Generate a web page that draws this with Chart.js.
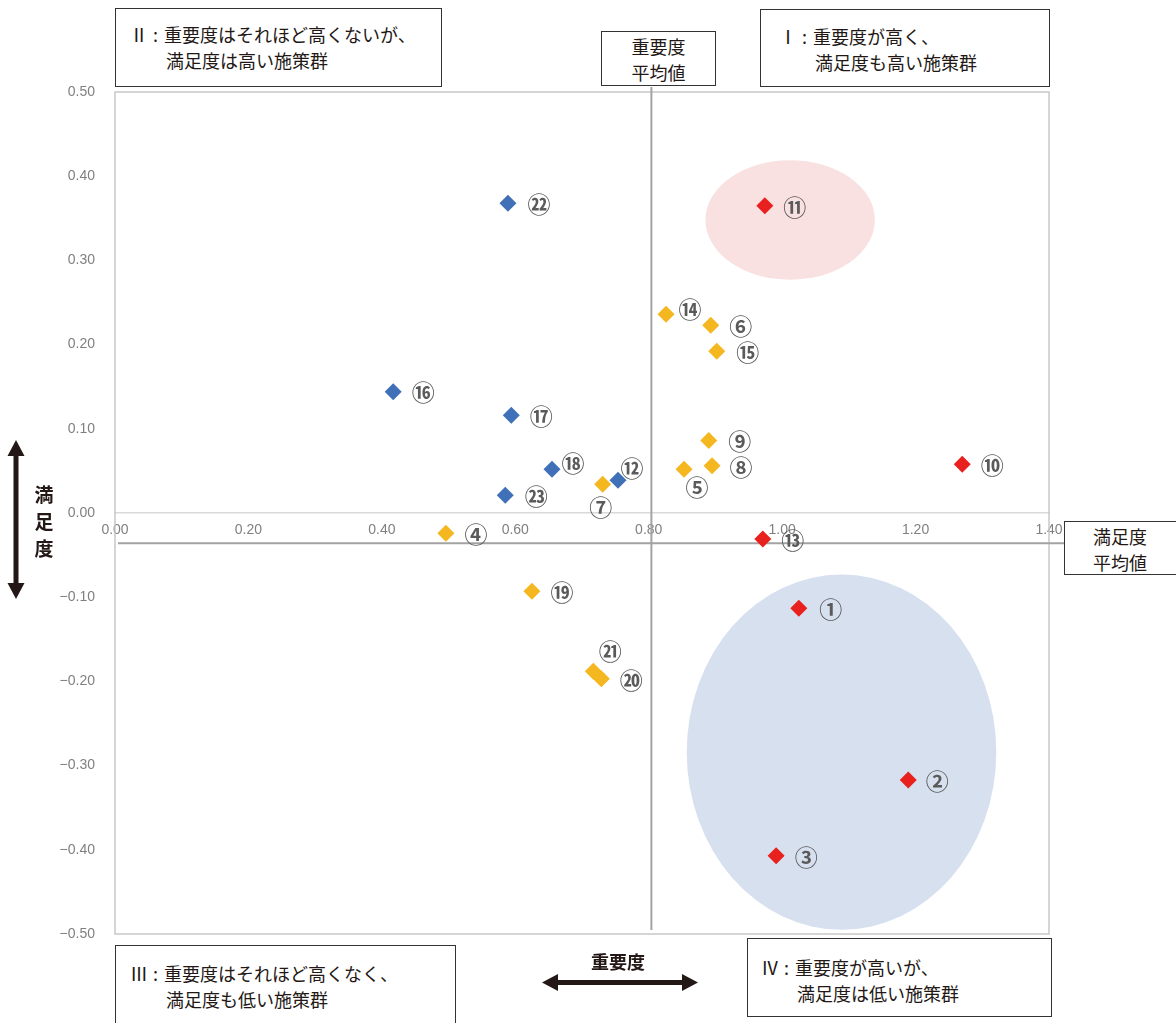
<!DOCTYPE html>
<html lang="ja">
<head>
<meta charset="utf-8">
<title>重要度・満足度 散布図</title>
<script src="https://cdn.jsdelivr.net/npm/chart.js@4/dist/chart.umd.min.js"></script>
<style>
  body { margin: 0; background: #fff; font-family: "Noto Sans CJK JP", sans-serif; }
  #wrap { position: relative; width: 1176px; height: 1023px; overflow: hidden; }
  #wrap canvas { position: absolute; left: 0; top: 0; }
  .box { position: absolute; box-sizing: border-box; border: 1.5px solid #333; background: #fff;
         color: #231815; font-size: 18px; line-height: 26px; white-space: nowrap; }
  .box .l2 { padding-left: 36px; }
  .box .c { margin: 0 6px 0 5px; }
  .mean { text-align: center; line-height: 26px; }
  .axisname { position: absolute; font-weight: bold; font-size: 18px; color: #231815; }
</style>
</head>
<body>
<div id="wrap">
  <canvas id="chart" width="1176" height="1023"></canvas>

  <div class="box" style="left:115px; top:8px; width:327px; height:79px; padding:12px 0 0 14px;">
    <div>Ⅱ<span class="c">:</span>重要度はそれほど高くないが、</div><div class="l2">満足度は高い施策群</div>
  </div>
  <div class="box mean" style="left:601px; top:31px; width:115px; height:55px; padding-top:1px;">
    <div>重要度</div><div>平均値</div>
  </div>
  <div class="box" style="left:760px; top:9px; width:290px; height:78px; padding:13px 0 0 18px;">
    <div>Ⅰ<span class="c">:</span>重要度が高く、</div><div class="l2">満足度も高い施策群</div>
  </div>
  <div class="box mean" style="left:1064px; top:521px; width:130px; height:54px; padding-top:1px; padding-right:18px;">
    <div>満足度</div><div>平均値</div>
  </div>
  <div class="box" style="left:115px; top:945px; width:341px; height:90px; padding:14px 0 0 14px;">
    <div>Ⅲ<span class="c">:</span>重要度はそれほど高くなく、</div><div class="l2">満足度も低い施策群</div>
  </div>
  <div class="box" style="left:747px; top:938px; width:305px; height:79px; padding:15px 0 0 13px;">
    <div>Ⅳ<span class="c">:</span>重要度が高いが、</div><div class="l2">満足度は低い施策群</div>
  </div>

  <div class="axisname" style="left:591px; top:948px;">重要度</div>
  <div class="axisname" style="left:32px; top:480px; width:24px; font-size:19px; line-height:27px; text-align:center;">満<br>足<br>度</div>
</div>

<script>
// 施策番号
const policyNo = ['①','②','③','④','⑤','⑥','⑦','⑧','⑨','⑩','⑪','⑫',
                  '⑬','⑭','⑮','⑯','⑰','⑱','⑲','⑳','㉑','㉒','㉓'];

// 重要度 (x)
const importance = [1.025, 1.189, 0.991, 0.496, 0.853, 0.893, 0.731, 0.895, 0.890, 1.270, 0.974, 0.754,
                    0.971, 0.826, 0.902, 0.417, 0.594, 0.655, 0.625, 0.729, 0.717, 0.589, 0.585];

// 満足度 (y)
const satisfaction = [-0.113, -0.317, -0.407, -0.024, 0.052, 0.223, 0.034, 0.056, 0.086, 0.058, 0.365, 0.039,
                      -0.031, 0.236, 0.192, 0.144, 0.116, 0.052, -0.093, -0.197, -0.188, 0.368, 0.021];

// color group of each policy
const group = ['red','red','red','orange','orange','orange','orange','orange','orange','red','red','blue',
               'red','orange','orange','blue','blue','blue','orange','orange','orange','blue','blue'];

// averages (reference lines)
const avgImportance = 0.804;
const avgSatisfaction = -0.036;

// highlighted areas: [centerX, centerY, radiusX, radiusY] in data units
const pinkArea = [1.012, 0.348, 0.127, 0.071];
const blueArea = [1.089, -0.284, 0.232, 0.211];

// axis ticks
const xTicks = [0, 0.2, 0.4, 0.6, 0.8, 1.0, 1.2, 1.4];
const yTicks = [0.5, 0.4, 0.3, 0.2, 0.1, 0, -0.1, -0.2, -0.3, -0.4, -0.5];

// label offsets from the diamond, in px
const labelShift = [[32,0],[29,0],[30,1],[30,0],[13,17],[30,0],[-2,22],[29,0],[31,0],[30,0],[30,1],[14,-13],
                    [30,0],[24,-6],[31,0],[30,0],[30,0],[21,-7],[30,0],[30,0],[17,-21],[31,0],[31,0]];

const colors = { red: '#e8201e', orange: '#f5b71f', blue: '#4070b8' };

function makeSet(name) {
    const pts = [];
    importance.forEach((v, i) => {
        if (group[i] === name) pts.push({ x: v, y: satisfaction[i] });
    });
    return {
        label: name,
        data: pts,
        backgroundColor: colors[name],
        borderColor: colors[name],
        borderWidth: 0,
        pointStyle: 'rectRot',
        pointRadius: 8.5,
        pointHoverRadius: 8.5
    };
}

const decor = {
    id: 'decor',
    beforeDatasetsDraw(chart) {
        const { ctx, chartArea: a, scales: { x, y } } = chart;
        ctx.save();
        // shaded ellipses
        [[pinkArea, '#f9e1e1'], [blueArea, '#d7e0ef']].forEach(([e, c]) => {
            const cx = x.getPixelForValue(e[0]), cy = y.getPixelForValue(e[1]);
            const rx = x.getPixelForValue(e[0] + e[2]) - cx;
            const ry = cy - y.getPixelForValue(e[1] + e[3]);
            ctx.beginPath();
            ctx.ellipse(cx, cy, rx, ry, 0, 0, Math.PI * 2);
            ctx.fillStyle = c;
            ctx.fill();
        });
        // plot frame
        ctx.strokeStyle = '#c8c8c8';
        ctx.lineWidth = 1.5;
        ctx.strokeRect(a.left, a.top, a.right - a.left, a.bottom - a.top);
        // average lines
        ctx.strokeStyle = '#a3a3a3';
        ctx.lineWidth = 2;
        const mx = x.getPixelForValue(avgImportance);
        const my = y.getPixelForValue(avgSatisfaction);
        ctx.beginPath();
        ctx.moveTo(mx, a.top - 5);
        ctx.lineTo(mx, a.bottom - 4);
        ctx.moveTo(a.left + 3, my);
        ctx.lineTo(1064, my);
        ctx.stroke();
        ctx.restore();
    },
    afterDatasetsDraw(chart) {
        const { ctx, scales: { x, y } } = chart;
        ctx.save();
        ctx.font = 'bold 23px "Noto Sans CJK JP"';
        ctx.fillStyle = '#5a5a5a';
        ctx.textAlign = 'center';
        ctx.textBaseline = 'middle';
        importance.forEach((v, i) => {
            const [dx, dy] = labelShift[i];
            ctx.fillText(policyNo[i], x.getPixelForValue(v) + dx, y.getPixelForValue(satisfaction[i]) + dy + 1);
        });
        ctx.restore();
    },
    afterDraw(chart) {
        const ctx = chart.ctx;
        ctx.save();
        ctx.fillStyle = '#231815';
        // horizontal double arrow (重要度)
        ctx.fillRect(556, 980, 128, 5);
        ctx.beginPath();
        ctx.moveTo(542, 982.5); ctx.lineTo(558, 974); ctx.lineTo(558, 991); ctx.closePath();
        ctx.moveTo(698, 982.5); ctx.lineTo(682, 974); ctx.lineTo(682, 991); ctx.closePath();
        ctx.fill();
        // vertical double arrow (満足度)
        ctx.fillRect(13.5, 454, 5, 132);
        ctx.beginPath();
        ctx.moveTo(16, 440); ctx.lineTo(7.5, 456); ctx.lineTo(24.5, 456); ctx.closePath();
        ctx.moveTo(16, 599); ctx.lineTo(7.5, 583); ctx.lineTo(24.5, 583); ctx.closePath();
        ctx.fill();
        ctx.restore();
    }
};

const tickFont = { family: '"Liberation Sans", Arial, sans-serif', size: 14 };

new Chart(document.getElementById('chart'), {
    type: 'scatter',
    data: { datasets: ['red', 'orange', 'blue'].map(makeSet) },
    options: {
        responsive: false,
        animation: false,
        layout: { padding: { left: 0, right: 127, top: 92, bottom: 89 } },
        plugins: { legend: { display: false }, tooltip: { enabled: false } },
        scales: {
            x: {
                type: 'linear',
                min: 0, max: 1.4,
                position: { y: 0 },
                afterBuildTicks: s => { s.ticks = xTicks.map(v => ({ value: v })); },
                ticks: {
                    padding: 9, color: '#808080', font: tickFont, maxRotation: 0, autoSkip: false,
                    callback: v => v.toFixed(2)
                },
                grid: { display: false, drawTicks: false },
                border: { display: true, color: '#d9d9d9', width: 1.5 }
            },
            y: {
                type: 'linear',
                min: -0.5, max: 0.5,
                afterBuildTicks: s => { s.ticks = yTicks.map(v => ({ value: v })); },
                afterFit: s => { s.width = 115; },
                ticks: {
                    padding: 20, color: '#808080', font: tickFont, autoSkip: false,
                    callback: v => (v < -0.001 ? '\u2212' : '') + Math.abs(v).toFixed(2)
                },
                grid: { display: false, drawTicks: false },
                border: { display: false }
            }
        }
    },
    plugins: [decor]
});
</script>
</body>
</html>
